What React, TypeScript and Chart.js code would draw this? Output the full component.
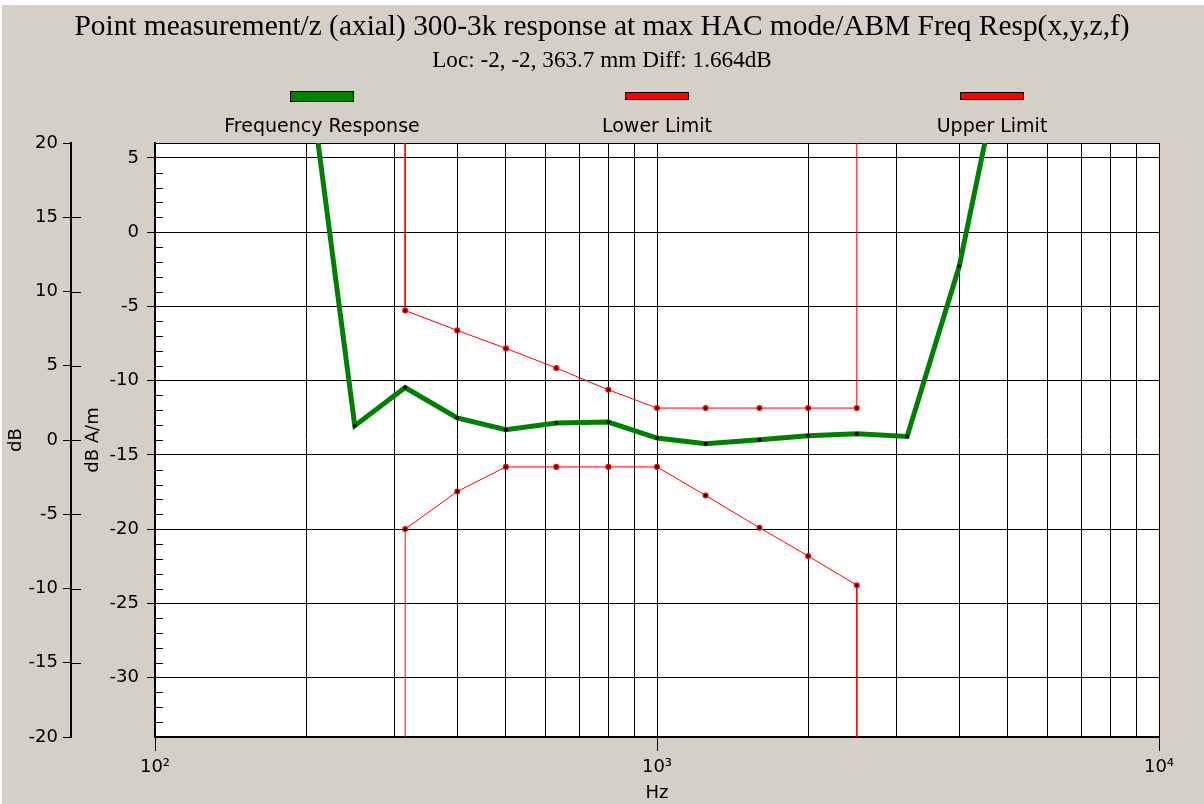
import React, { useEffect, useRef } from 'react';
import { Chart, registerables } from 'chart.js';

Chart.register(...registerables);

// ---------- text ----------
const TITLE = 'Point measurement/z (axial) 300-3k response at max HAC mode/ABM Freq Resp(x,y,z,f)';
const SUBTITLE = 'Loc: -2, -2, 363.7 mm Diff: 1.664dB';
const SERIES_NAMES = ['Frequency Response', 'Lower Limit', 'Upper Limit'];
const X_TITLE = 'Hz';
const Y_INNER_TITLE = 'dB A/m';
const Y_OUTER_TITLE = 'dB';

// ---------- data ----------
const RESPONSE_FREQ = [200, 250, 315, 400, 500, 630, 800, 1000, 1250, 1600, 2000, 2500, 3150, 4000, 5000];
const RESPONSE_DB = [12.2, -13.04, -10.47, -12.52, -13.31, -12.86, -12.79, -13.87, -14.25, -13.98, -13.71, -13.58, -13.76, -2.3, 13.5];

const LIMIT_FREQ = [315, 400, 500, 630, 800, 1000, 1250, 1600, 2000, 2500];
const LOWER_LIMIT_DB = [-20.0, -17.47, -15.81, -15.81, -15.81, -15.81, -17.74, -19.91, -21.81, -23.78];
const UPPER_LIMIT_DB = [-5.28, -6.62, -7.83, -9.15, -10.62, -11.85, -11.85, -11.85, -11.85, -11.85];
// the limit masks continue vertically off the scale at both ends
const UPPER_EDGE_DB = 60;
const LOWER_EDGE_DB = -80;

// ---------- axes ----------
const X_MIN = 100;
const X_MAX = 10000;
const X_GRID_TICKS = [100, 200, 300, 400, 500, 600, 700, 800, 900, 1000, 2000, 3000, 4000, 5000, 6000, 7000, 8000, 9000, 10000];
const X_DECADE_LABELS: Record<number, string> = { 100: '10\u00B2', 1000: '10\u00B3', 10000: '10\u2074' };

const Y_INNER_MIN = -34;
const Y_INNER_MAX = 6;
const Y_INNER_TICKS = [5, 0, -5, -10, -15, -20, -25, -30];
const Y_INNER_MINOR_STEP = 1;

const Y_OUTER_MIN = -20;
const Y_OUTER_MAX = 20;
const Y_OUTER_TICKS = [20, 15, 10, 5, 0, -5, -10, -15, -20];

const GREEN = '#008000';
const RED = '#FF0000';
const BG = '#D4D0C8';
const SANS = '"DejaVu Sans", sans-serif';
const SERIF = '"Liberation Serif", serif';

const limitSeries = (vals: number[], edge: number) => [
  { x: LIMIT_FREQ[0], y: edge },
  ...LIMIT_FREQ.map((x, i) => ({ x, y: vals[i] })),
  { x: LIMIT_FREQ[LIMIT_FREQ.length - 1], y: edge },
];

const decorPlugin = {
  id: 'decor',
  beforeDraw(chart: any) {
    const { ctx, width, height, chartArea: a } = chart;
    ctx.save();
    ctx.fillStyle = BG;
    ctx.fillRect(0, 0, width, height);
    ctx.fillStyle = '#FFFFFF';
    ctx.fillRect(0, 0, width, 5);
    ctx.fillRect(0, 0, 2, height);
    ctx.fillRect(a.left, a.top, a.right - a.left, a.bottom - a.top);
    ctx.restore();
  },
  beforeDatasetsDraw(chart: any) {
    const { ctx, chartArea: a, scales } = chart;
    const yi = scales.y;
    const yo = scales.y2;
    ctx.save();
    ctx.strokeStyle = '#000';
    ctx.lineWidth = 1;
    ctx.beginPath();
    // top border of plot
    ctx.moveTo(a.left, Math.round(a.top) + 0.5);
    ctx.lineTo(a.right + 1, Math.round(a.top) + 0.5);
    // minor ticks of the inner axis, pointing into the plot
    for (let v = Y_INNER_MIN + Y_INNER_MINOR_STEP; v < Y_INNER_MAX; v += Y_INNER_MINOR_STEP) {
      if (v % 5 === 0) continue;
      const py = Math.round(yi.getPixelForValue(v)) + 0.5;
      ctx.moveTo(a.left, py);
      ctx.lineTo(a.left + 8, py);
    }
    // outer axis ticks crossing to the right side
    Y_OUTER_TICKS.forEach((v) => {
      if (v === Y_OUTER_MAX || v === Y_OUTER_MIN) return;
      const py = Math.round(yo.getPixelForValue(v)) + 0.5;
      ctx.moveTo(yo.right, py);
      ctx.lineTo(yo.right + 10, py);
    });
    ctx.stroke();
    ctx.restore();
  },
  afterDraw(chart: any) {
    const { ctx, chartArea: a, width } = chart;
    ctx.save();
    ctx.fillStyle = '#000';
    ctx.textAlign = 'center';
    ctx.textBaseline = 'alphabetic';
    // title fitted to the reference width
    ctx.font = `20px ${SERIF}`;
    let s = (20 * 1055) / ctx.measureText(TITLE).width;
    ctx.font = `${s.toFixed(1)}px ${SERIF}`;
    ctx.fillText(TITLE, width / 2, 35);
    ctx.font = `20px ${SERIF}`;
    s = (20 * 340) / ctx.measureText(SUBTITLE).width;
    ctx.font = `${s.toFixed(1)}px ${SERIF}`;
    ctx.fillText(SUBTITLE, width / 2, 67);

    // legend: items centred in thirds of the plot width, swatch above label
    const third = (a.right - a.left) / 3;
    chart.data.datasets.forEach((ds: any, i: number) => {
      const cx = Math.round(a.left + third * (i + 0.5));
      const thick = ds.borderWidth > 2;
      const h = thick ? 11 : 8;
      const top = thick ? 91 : 92;
      ctx.fillStyle = ds.borderColor;
      ctx.fillRect(cx - 32, top, 64, h);
      ctx.strokeStyle = '#000';
      ctx.lineWidth = 1;
      ctx.strokeRect(cx - 32 + 0.5, top + 0.5, 63, h - 1);
      ctx.fillStyle = '#000';
      ctx.font = `19px ${SANS}`;
      ctx.fillText(ds.label, cx, 132);
    });
    ctx.restore();
  },
};

export default function App() {
  const ref = useRef<HTMLCanvasElement | null>(null);

  useEffect(() => {
    if (!ref.current) return;
    const tickFont = { family: SANS, size: 18 };
    const limitRadius = (c: any) => (c.dataIndex === 0 || c.dataIndex === LIMIT_FREQ.length + 1 ? 0 : 2.3);
    const chart = new Chart(ref.current, {
      type: 'line',
      data: {
        datasets: [
          {
            label: SERIES_NAMES[0],
            data: RESPONSE_FREQ.map((x, i) => ({ x, y: RESPONSE_DB[i] })),
            borderColor: GREEN,
            backgroundColor: GREEN,
            borderWidth: 5,
            pointRadius: 2,
            pointBorderWidth: 0,
            pointBackgroundColor: '#000',
            tension: 0,
            clip: 0,
            xAxisID: 'x',
            yAxisID: 'y',
          },
          {
            label: SERIES_NAMES[1],
            data: limitSeries(LOWER_LIMIT_DB, LOWER_EDGE_DB),
            borderColor: RED,
            backgroundColor: RED,
            borderWidth: 1,
            pointRadius: limitRadius,
            pointBorderWidth: 1.5,
            pointBorderColor: RED,
            pointBackgroundColor: '#000',
            tension: 0,
            clip: 0,
            xAxisID: 'x',
            yAxisID: 'y',
          },
          {
            label: SERIES_NAMES[2],
            data: limitSeries(UPPER_LIMIT_DB, UPPER_EDGE_DB),
            borderColor: RED,
            backgroundColor: RED,
            borderWidth: 1,
            pointRadius: limitRadius,
            pointBorderWidth: 1.5,
            pointBorderColor: RED,
            pointBackgroundColor: '#000',
            tension: 0,
            clip: 0,
            xAxisID: 'x',
            yAxisID: 'y',
          },
        ],
      },
      options: {
        responsive: false,
        maintainAspectRatio: false,
        devicePixelRatio: 1,
        animation: false,
        events: [],
        layout: { padding: { top: 143, right: 45, left: 0, bottom: 0 } },
        plugins: {
          legend: { display: false },
          tooltip: { enabled: false },
          title: { display: false },
        },
        scales: {
          x: {
            type: 'logarithmic',
            position: 'bottom',
            min: X_MIN,
            max: X_MAX,
            afterBuildTicks: (s: any) => {
              s.ticks = X_GRID_TICKS.map((value) => ({ value }));
            },
            afterFit: (s: any) => {
              s.height = 67;
            },
            ticks: {
              autoSkip: false,
              maxRotation: 0,
              padding: 6,
              color: '#000',
              font: tickFont,
              callback: (v: any) => X_DECADE_LABELS[Number(v)] ?? '',
            },
            grid: {
              color: '#000',
              lineWidth: 1,
              tickLength: 14,
              tickColor: (c: any) => (X_DECADE_LABELS[c.tick?.value] ? '#000' : 'rgba(0,0,0,0)'),
            },
            border: { color: '#000', width: 2 },
            title: { display: true, text: X_TITLE, color: '#000', font: tickFont, padding: { top: 0, bottom: 0 } },
          },
          y: {
            type: 'linear',
            position: 'left',
            weight: 0,
            min: Y_INNER_MIN,
            max: Y_INNER_MAX,
            afterBuildTicks: (s: any) => {
              s.ticks = Y_INNER_TICKS.map((value) => ({ value }));
            },
            afterFit: (s: any) => {
              s.width = 84;
            },
            ticks: { autoSkip: false, padding: 8, color: '#000', font: tickFont },
            grid: { color: '#000', lineWidth: 1, tickLength: 8 },
            border: { color: '#000', width: 2 },
            title: { display: true, text: Y_INNER_TITLE, color: '#000', font: tickFont, padding: { top: 12, bottom: 0 } },
          },
          y2: {
            type: 'linear',
            position: 'left',
            weight: 1,
            min: Y_OUTER_MIN,
            max: Y_OUTER_MAX,
            afterBuildTicks: (s: any) => {
              s.ticks = Y_OUTER_TICKS.map((value) => ({ value }));
            },
            afterFit: (s: any) => {
              s.width = 71;
            },
            ticks: { autoSkip: false, padding: 5, color: '#000', font: tickFont },
            grid: { color: '#000', lineWidth: 1, tickLength: 8, drawOnChartArea: false },
            border: { color: '#000', width: 2 },
            title: { display: true, text: Y_OUTER_TITLE, color: '#000', font: tickFont, padding: { top: 6, bottom: 0 } },
          },
        },
      } as any,
      plugins: [decorPlugin],
    });
    return () => chart.destroy();
  }, []);

  return (
    <div style={{ position: 'fixed', left: 0, top: 0, width: 1204, height: 804, background: BG }}>
      <canvas ref={ref} width={1204} height={804} style={{ display: 'block', width: 1204, height: 804 }} />
    </div>
  );
}
